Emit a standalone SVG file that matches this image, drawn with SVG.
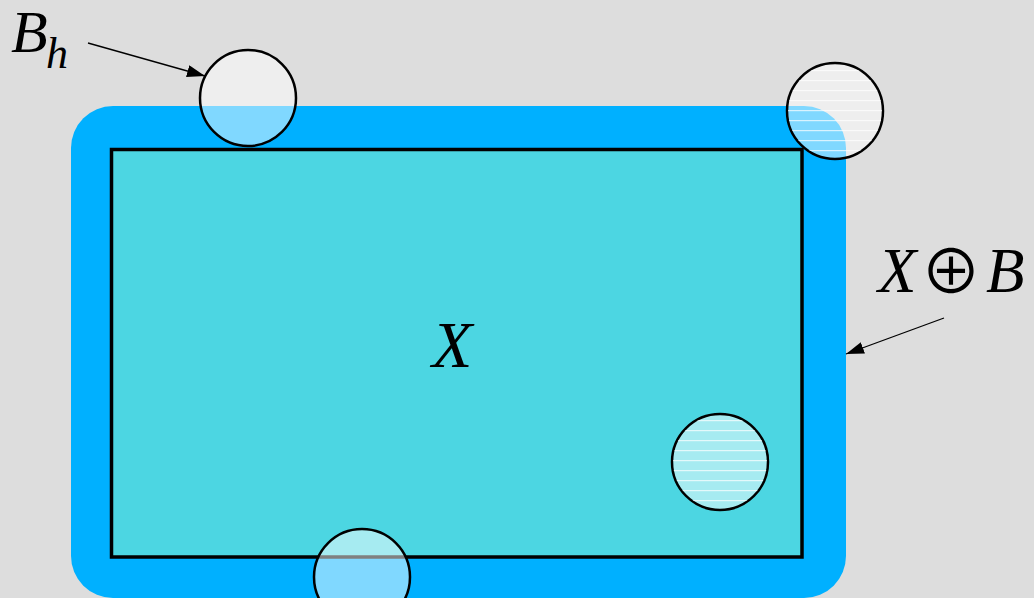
<svg xmlns="http://www.w3.org/2000/svg" width="1034" height="598" viewBox="0 0 1034 598">
<style>
.lbl{font-family:"Liberation Serif","Times New Roman",serif;font-style:italic;fill:#000}
.ball{fill:#ffffff;fill-opacity:0.5;stroke:#000;stroke-width:2.5}
.conn{stroke:#000;stroke-width:1.3;fill:none}
</style>
<defs>
<marker id="ah" viewBox="0 0 18 12" refX="18" refY="6" markerWidth="18" markerHeight="12" markerUnits="userSpaceOnUse" orient="auto">
<path d="M0,0 L18,6 L0,12 z" fill="#000"/>
</marker>
<pattern id="stripes" width="8" height="10" patternUnits="userSpaceOnUse">
<rect x="0" y="0" width="8" height="1.2" fill="#ffffff" fill-opacity="0.7"/>
</pattern>
</defs>
<rect width="1034" height="598" fill="#dddddd"/>
<g id="dilation">
<rect x="71" y="106" width="775" height="492" rx="42" ry="42" fill="#00b0ff"/>
<rect x="71" y="150" width="775" height="400" fill="#00b0ff"/>
</g>
<g id="X">
<rect x="111.5" y="149.5" width="690.5" height="407.5" fill="#4cd6e2" stroke="#000" stroke-width="3.5"/>
<text class="lbl" x="432" y="367" font-size="66">X</text>
</g>
<g id="ball-top">
<circle class="ball" cx="248" cy="98" r="48"/>
</g>
<g id="ball-corner">
<circle class="ball" cx="835" cy="111" r="48"/>
<circle cx="835" cy="111" r="47" fill="url(#stripes)"/>
</g>
<g id="ball-inside">
<circle class="ball" cx="720" cy="462" r="48"/>
<circle cx="720" cy="462" r="47" fill="url(#stripes)"/>
</g>
<g id="ball-bottom">
<circle class="ball" cx="362" cy="577" r="48"/>
</g>
<g id="label-Bh">
<text class="lbl" x="11" y="52" font-size="60">B</text>
<text class="lbl" x="46" y="68" font-size="44">h</text>
</g>
<g id="label-XB">
<text class="lbl" x="878" y="292" font-size="63">X</text>
<text x="951" y="294" font-size="61" text-anchor="middle" font-family="'Noto Sans CJK JP',sans-serif" font-weight="400" fill="#000">⊕</text>
<text class="lbl" x="986" y="292" font-size="63">B</text>
</g>
<g id="connectors">
<line class="conn" x1="88" y1="43" x2="205" y2="76" marker-end="url(#ah)"/>
<line class="conn" x1="944" y1="318" x2="846" y2="354" marker-end="url(#ah)"/>
</g>
</svg>
